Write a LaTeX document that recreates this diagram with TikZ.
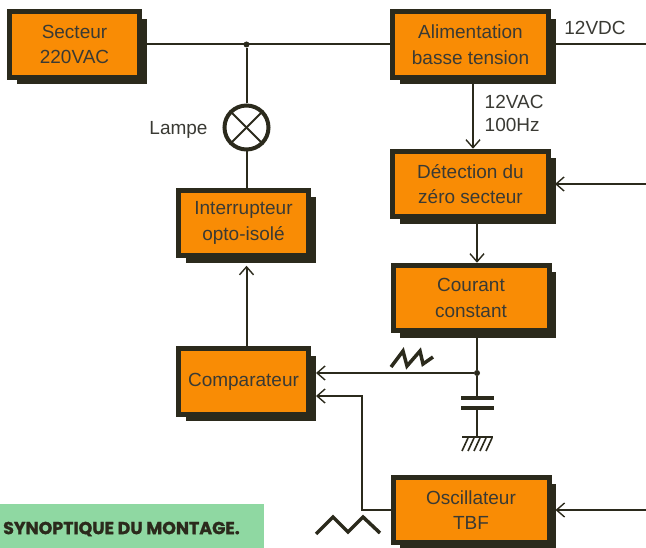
\documentclass[tikz,border=0pt]{standalone}
\usepackage{fontspec}
\setmainfont{Liberation Sans}
\newfontfamily\capfont[BoldFeatures={FakeBold=1.2}]{Poppins}
\usetikzlibrary{arrows.meta,positioning,shadows}
\definecolor{boxorange}{HTML}{F98C05}
\definecolor{boxdark}{HTML}{2B2A1C}
\definecolor{inkdark}{HTML}{3A3A34}
\definecolor{bannergreen}{HTML}{8FD8A2}
\tikzset{
  block/.style={draw=boxdark,line width=5pt,fill=boxorange,minimum width=130pt,minimum height=65.5pt,
    inner sep=0pt,align=center,text=inkdark,font=\fontsize{19}{25.5}\selectfont,
    general shadow={fill=boxdark,shadow xshift=7pt,shadow yshift=-7pt}},
  wide/.style={block,minimum width=156pt},
  label/.style={text=inkdark,font=\fontsize{19}{23}\selectfont,inner sep=0pt,align=left},
  wire/.style={draw=boxdark,line width=2pt},
  arr/.style={wire,-{Straight Barb[length=8pt,width=14pt,line width=1.4pt]}},
  wave/.style={draw=boxdark,line width=3.5pt,line join=miter}
}
\begin{document}
\begin{tikzpicture}[x=1pt,y=-1pt]
  \useasboundingbox (0,0) rectangle (646,548);
  \node[anchor=west,minimum width=264pt,minimum height=44pt,fill=bannergreen,inner sep=0pt,outer sep=0pt] (banner) at (0,526) {};
  \node[anchor=west,inner sep=0pt,text=boxdark,font=\capfont\bfseries\fontsize{17.4}{18}\selectfont] (title) at (3,529) {SYNOPTIQUE DU MONTAGE.};
  \node[circle,draw=boxdark,line width=4pt,minimum size=44pt,inner sep=0pt] (lamp) at (246.5,127.5) {};
  \node[circle,fill=boxdark,inner sep=0pt,minimum size=6pt] (top) at (246.5,44.5) {};
  \node[circle,fill=boxdark,inner sep=0pt,minimum size=6pt] (tap) at (477,373) {};
  \coordinate (outa) at (646,44.5);
  \coordinate (outb) at (646,184);
  \coordinate (outc) at (646,510);
  \coordinate (bend) at (362,396);
  \coordinate (platea) at (477,398);
  \coordinate (plateb) at (477,408);
  \coordinate (gnd) at (477,437);
  \coordinate (feed) at (473,0);
  \node[block] (secteur) at (74.5,44.5) {Secteur\\220VAC};
  \node[wide] (alim) at (470.5,44.5) {Alimentation\\basse tension};
  \node[wide] (detect) at (470.5,184) {Détection du\\zéro secteur};
  \node[wide] (courant) at (471,298) {Courant\\constant};
  \node[wide] (oscil) at (471,510) {Oscillateur\\TBF};
  \node[block] (inter) at (243.5,223) {Interrupteur\\opto-isolé};
  \node[block] (compar) at (243.5,381.5) {Comparateur};
  \node[label] (lampe) at (178.5,130) {Lampe};
  \node[label] (vdc) at (595,28) {12VDC};
  \node[label,anchor=west] (vac) at (484.5,113) {12VAC\\100Hz};
  \path[every edge/.style={wire}]
    (secteur) edge (alim)
    (top) edge (lamp)
    (lamp) edge (lamp |- inter.north)
    (alim.east) edge (outa)
    (tap |- courant.south) edge (tap)
    (tap) edge (platea)
    (plateb) edge (gnd)
    (lamp.45) edge (lamp.225)
    (lamp.135) edge (lamp.315);
  \path[every edge/.style={arr}]
    (feed |- alim.south) edge (feed |- detect.north)
    (tap |- detect.south) edge (tap |- courant.north)
    (lamp |- compar.north) edge[shorten >=7.5pt] (lamp |- inter.south)
    (outb) edge[shorten >=4pt] (detect.east)
    (outc) edge[shorten >=4pt] (oscil.east)
    (tap) edge[shorten >=5pt] (compar.east |- tap);
  \draw[arr,shorten >=5pt] (oscil.west) -| (bend) -- (compar.east |- bend);
  \draw[wire,line width=4pt] (461,398) -- (494,398) (461,408) -- (494,408);
  \draw[wire] (462,437) -- (493,437);
  \foreach \hx in {468,474,480,486,492}
    \draw[wire,line width=1.6pt] (\hx,438) -- (\hx-6,451);
  \draw[wave] (391,367) -- (403,351) -- (407,366) -- (420,351) -- (423,364) -- (433,357);
  \draw[wave] (316,534) -- (333,517) -- (348,532) -- (363,517) -- (380,533);
\end{tikzpicture}
\end{document}
